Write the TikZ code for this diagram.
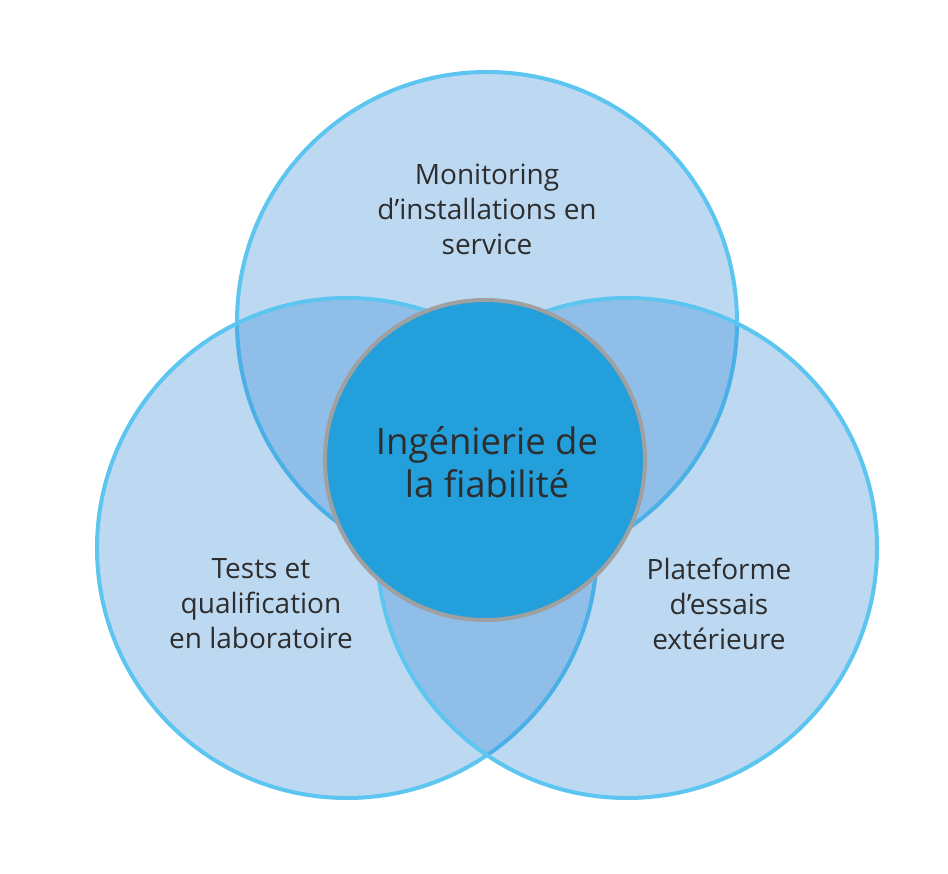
\documentclass[tikz,border=0pt]{standalone}
\usepackage{fontspec}
\setmainfont{Open Sans}
\definecolor{vfill}{RGB}{37,130,212}
\definecolor{vline}{RGB}{92,197,240}
\definecolor{cfill}{RGB}{35,159,219}
\definecolor{cline}{RGB}{160,160,160}
\definecolor{txt}{RGB}{45,45,45}
\begin{document}
\begin{tikzpicture}[x=1pt,y=-1pt,
  venn/.style={fill=vfill,fill opacity=0.3,draw=vline,draw opacity=1,line width=4pt},
  core/.style={circle,fill=cfill,draw=cline,line width=4pt,minimum size=320pt,inner sep=0pt},
  lbl/.style={align=center,text=txt,font=\fontsize{28}{35}\selectfont},
  clbl/.style={align=center,text=txt,font=\fontsize{36.5}{43}\selectfont}]
\fill[white] (0,0) rectangle (948,874);
\useasboundingbox (0,0) rectangle (948,874);
\coordinate (ct) at (487,322);
\coordinate (cl) at (347,548);
\coordinate (cr) at (627,548);
\draw[venn] (ct) circle[radius=250pt];
\draw[venn] (cl) circle[radius=250pt];
\draw[venn] (cr) circle[radius=250pt];
\node[core] (core) at (485,460) {};
\node[clbl] (ctext) at (487,462) {Ingénierie de\\la fiabilité};
\node[lbl] (top) at (487,209) {Monitoring\\d’installations en\\service};
\node[lbl] (left) at (261,604) {Tests et\\qualification\\en laboratoire};
\node[lbl] (right) at (719,604) {Plateforme\\d’essais\\extérieure};
\end{tikzpicture}
\end{document}
